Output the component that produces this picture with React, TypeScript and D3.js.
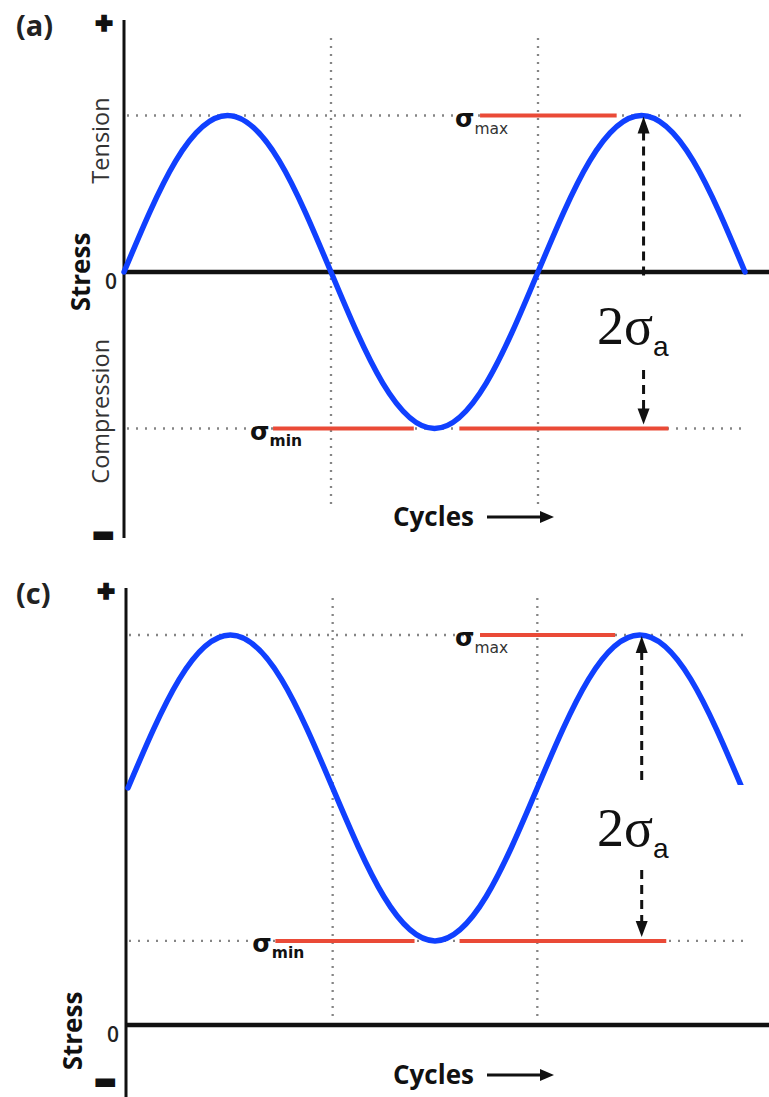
import React from "react";
import * as d3 from "d3";

// Phase positions (in cycles) at which the stress wave is sampled
const cyclePoints = [0, 0.125, 0.25, 0.375, 0.5, 0.625, 0.75, 0.875, 1, 1.125, 1.25, 1.375, 1.5];
// Fully reversed loading (a): stress in arbitrary units
const stressReversed = [0, 71, 100, 71, 0, -71, -100, -71, 0, 71, 100, 71, 0];
// Fluctuating loading (c): tension-only stress in arbitrary units
const stressFluctuating = [155, 226, 255, 226, 155, 84, 55, 84, 155, 226, 255, 226, 155];

const peakReversed = { max: 100, min: -100 };
const peakFluctuating = { max: 255, min: 55 };

// Red level markers (cycle spans) and the 2σa arrow / grid positions
const maxMarkSpan = [0.86, 1.19];
const minMarkSpans = [[0.36, 0.70], [0.81, 1.315]];
const gridCycles = [0.5, 1.0];
const amplitudeArrowCycle = 1.255;

const BLUE = "#1040ff";
const RED = "#ea4a37";
const GRID = "#858585";
const SANS = "'Open Sans', sans-serif";
const VERD = "'DejaVu Sans', sans-serif";

type PanelProps = {
  label: string;
  values: number[];
  peaks: { max: number; min: number };
  xRange: [number, number];
  yDomain: [number, number];
  yRange: [number, number];
  axisTop: number;
  axisBottom: number;
  axisX: number;
  gridTop: number;
  gridBottom: number;
  boxTop: number;
  boxBottom: number;
  stressLabelY: number;
  stressLabelX: number;
  showSides: boolean;
  cyclesY: number;
  minusY: number;
};

function Panel(p: PanelProps) {
  const x = d3.scaleLinear().domain([0, 1.5]).range(p.xRange);
  const y = d3.scaleLinear().domain(p.yDomain).range(p.yRange);
  const line = d3
    .line<number>()
    .x((_, i) => x(cyclePoints[i]))
    .y((d) => y(d))
    .curve(d3.curveNatural);

  const y0 = y(0);
  const yMax = y(p.peaks.max);
  const yMin = y(p.peaks.min);
  const ax = x(amplitudeArrowCycle);
  const gridEnd = x(1.5) + 3;
  const head = 16;
  const halfW = 6;

  return (
    <g>
      {/* panel tag and sign markers */}
      <text x={16} y={p.axisTop + 16} fontFamily={SANS} fontWeight={700} fontSize={29} fill="#222">
        {p.label}
      </text>
      <text x={p.axisX - 20} y={p.axisTop + 15} textAnchor="middle" fontFamily={SANS} fontWeight={800} fontSize={31} fill="#111" stroke="#111" strokeWidth={1.6}>
        +
      </text>

      {/* dotted reference lines */}
      {[yMax, yMin].map((yy, i) => (
        <line key={"h" + i} x1={p.axisX + 3} x2={gridEnd} y1={yy} y2={yy} stroke={GRID} strokeWidth={2.3} strokeDasharray="2,7" />
      ))}
      {gridCycles.map((c) => (
        <line key={"v" + c} x1={x(c)} x2={x(c)} y1={p.gridTop} y2={p.gridBottom} stroke={GRID} strokeWidth={2.3} strokeDasharray="2,6" />
      ))}

      {/* axes */}
      <line x1={p.axisX} x2={p.axisX} y1={p.axisTop} y2={p.axisBottom} stroke="#111" strokeWidth={3} />
      <line x1={p.axisX} x2={769} y1={y0} y2={y0} stroke="#111" strokeWidth={4.5} />

      {/* σmax / σmin level markers */}
      <line x1={x(maxMarkSpan[0])} x2={x(maxMarkSpan[1])} y1={yMax} y2={yMax} stroke={RED} strokeWidth={4} />
      {minMarkSpans.map((s, i) => (
        <line key={"m" + i} x1={x(s[0])} x2={x(s[1])} y1={yMin} y2={yMin} stroke={RED} strokeWidth={4} />
      ))}

      {/* stress wave */}
      <path d={line(p.values) || ""} fill="none" stroke={BLUE} strokeWidth={5.5} strokeLinecap="round" />

      {/* amplitude arrow */}
      <line x1={ax} x2={ax} y1={yMax + head} y2={p.boxTop} stroke="#111" strokeWidth={3} strokeDasharray="9,6" />
      <path d={`M${ax},${yMax + 1}L${ax - halfW},${yMax + head + 2}L${ax + halfW},${yMax + head + 2}Z`} fill="#111" />
      <line x1={ax} x2={ax} y1={p.boxBottom} y2={yMin - head} stroke="#111" strokeWidth={3} strokeDasharray="9,6" />
      <path d={`M${ax},${yMin - 4}L${ax - halfW},${yMin - head - 4}L${ax + halfW},${yMin - head - 4}Z`} fill="#111" />

      <rect x={577} y={p.boxTop} width={178} height={p.boxBottom - p.boxTop} fill="#fff" />
      <text x={597} y={p.boxTop + (p.boxBottom - p.boxTop) * 0.72} fontFamily="'Liberation Serif', serif" fontSize={54} fill="#111">
        2σ
        <tspan fontFamily="'Liberation Sans', sans-serif" fontSize={28} dy={12}>
          a
        </tspan>
      </text>

      {/* level labels */}
      <text x={x(maxMarkSpan[0]) - 25} y={yMax + 11} fontFamily={VERD} fill="#111">
        <tspan fontWeight={700} fontSize={25}>σ</tspan>
        <tspan fontSize={15.5} dy={7} fill="#333">max</tspan>
      </text>
      <text x={x(minMarkSpans[0][0]) - 23} y={yMin + 11} fontFamily={VERD} fill="#111">
        <tspan fontWeight={700} fontSize={25}>σ</tspan>
        <tspan fontWeight={700} fontSize={15.5} dy={6}>min</tspan>
      </text>

      {/* axis annotations */}
      <text x={p.axisX - 13} y={y0 + 17} textAnchor="middle" fontFamily={SANS} fontWeight={600} fontSize={21} fill="#222">
        0
      </text>
      <text
        transform={`translate(${p.stressLabelX},${p.stressLabelY}) rotate(-90)`}
        textAnchor="middle"
        fontFamily={SANS}
        fontWeight={700}
        fontSize={26}
        fill="#111"
      >
        Stress
      </text>
      {p.showSides && (
        <>
          <text transform={`translate(109,${y(84)}) rotate(-90)`} textAnchor="middle" fontFamily={SANS} fontSize={23.5} fill="#333">
            Tension
          </text>
          <text transform={`translate(109,${y(-89)}) rotate(-90)`} textAnchor="middle" fontFamily={SANS} fontSize={23.5} fill="#333">
            Compression
          </text>
        </>
      )}
      <text
        x={p.axisX - 28}
        y={p.minusY}
        fontFamily={SANS}
        fontWeight={800}
        fontSize={20}
        fill="#111"
        stroke="#111"
        strokeWidth={6}
        textLength={14}
        lengthAdjust="spacingAndGlyphs"
      >
        −
      </text>

      {/* cycles label with arrow */}
      <text x={393} y={p.cyclesY + 9} fontFamily={SANS} fontWeight={700} fontSize={26} fill="#111">
        Cycles
      </text>
      <line x1={487} x2={543} y1={p.cyclesY} y2={p.cyclesY} stroke="#111" strokeWidth={3} />
      <path d={`M554,${p.cyclesY}L540,${p.cyclesY - 6}L540,${p.cyclesY + 6}Z`} fill="#111" />
    </g>
  );
}

export default function App() {
  return (
    <svg width={769} height={1097} style={{ position: "absolute", left: 0, top: 0, background: "#fff" }}>
      <rect width={769} height={1097} fill="#fff" />
      <Panel
        label="(a)"
        values={stressReversed}
        peaks={peakReversed}
        xRange={[124, 745]}
        yDomain={[-100, 100]}
        yRange={[428.5, 115.5]}
        axisTop={20}
        axisBottom={538}
        axisX={124}
        gridTop={38}
        gridBottom={505}
        boxTop={278}
        boxBottom={370}
        stressLabelX={90}
        stressLabelY={272}
        showSides={true}
        cyclesY={517}
        minusY={543}
      />
      <Panel
        label="(c)"
        values={stressFluctuating}
        peaks={peakFluctuating}
        xRange={[128, 742]}
        yDomain={[0, 255]}
        yRange={[1025, 635]}
        axisTop={588}
        axisBottom={1097}
        axisX={126}
        gridTop={598}
        gridBottom={1020}
        boxTop={785}
        boxBottom={870}
        stressLabelX={82}
        stressLabelY={1031}
        showSides={false}
        cyclesY={1075}
        minusY={1090}
      />
    </svg>
  );
}
